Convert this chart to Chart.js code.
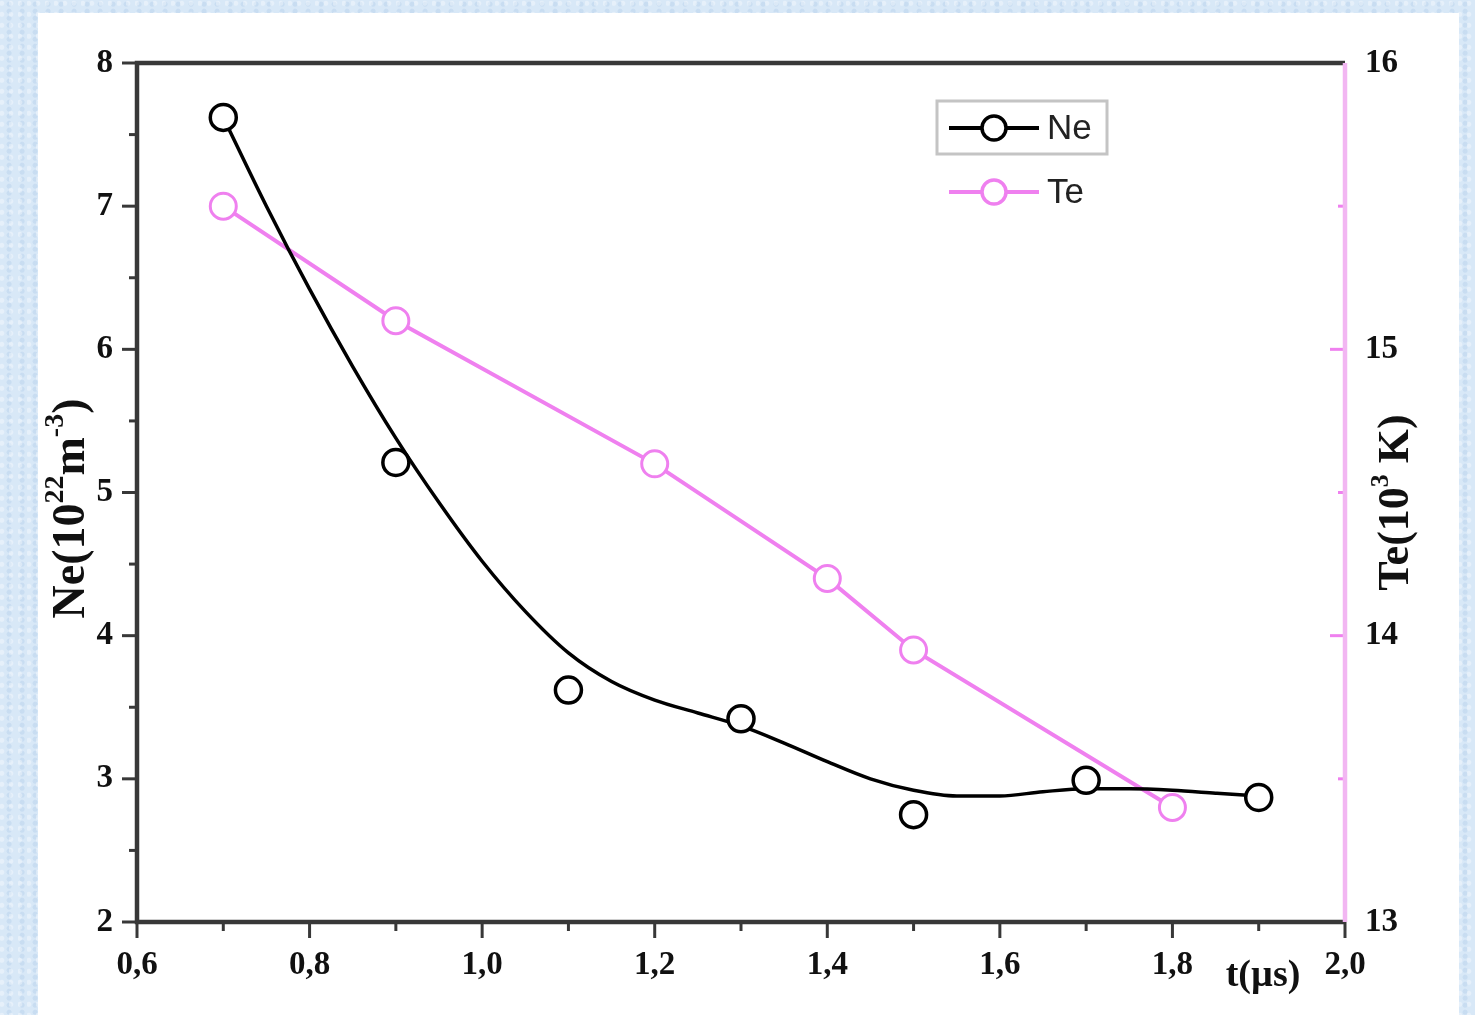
<!DOCTYPE html>
<html>
<head>
<meta charset="utf-8">
<script src="https://cdn.jsdelivr.net/npm/chart.js@4.4.1/dist/chart.umd.min.js"></script>
<style>
  html, body { margin: 0; padding: 0; }
  body {
    width: 1475px; height: 1015px; overflow: hidden; position: relative;
    background-color: #d8e8f7;
    background-image:
      radial-gradient(circle at 20% 30%, rgba(255,255,255,0.35) 0 2px, transparent 3px),
      radial-gradient(circle at 70% 60%, rgba(170,200,230,0.35) 0 2px, transparent 3px);
    background-size: 9px 11px, 13px 7px;
  }
  #panel { position: absolute; left: 38px; top: 13px; width: 1421px; height: 1002px; background: #fff; }
</style>
</head>
<body>
<div id="panel"><canvas id="combined"></canvas></div>
<script>
// measured Ne points (10^22 m^-3)
const neTimes = [0.7, 0.9, 1.1, 1.3, 1.5, 1.7, 1.9];
const neValues = [7.62, 5.21, 3.62, 3.42, 2.75, 2.99, 2.87];

// smooth fit curve through Ne
const neFitTimes = [0.7, 0.75, 0.8, 0.85, 0.9, 0.95, 1.0, 1.05, 1.1, 1.15, 1.2, 1.25, 1.3,
                    1.35, 1.4, 1.45, 1.5, 1.55, 1.6, 1.65, 1.7, 1.75, 1.8, 1.85, 1.9];
const neFitValues = [7.62, 7.0, 6.42, 5.88, 5.38, 4.93, 4.52, 4.17, 3.88, 3.68, 3.55, 3.46, 3.37,
                     3.25, 3.12, 3.0, 2.92, 2.88, 2.88, 2.91, 2.93, 2.93, 2.92, 2.9, 2.88];

// Te points (10^3 K)
const teTimes = [0.7, 0.9, 1.2, 1.4, 1.5, 1.8];
const teValues = [15.5, 15.1, 14.6, 14.2, 13.95, 13.4];

// tick labels
const xTicks = [0.6, 0.8, 1.0, 1.2, 1.4, 1.6, 1.8, 2.0];
const xTickLabels = ['0,6', '0,8', '1,0', '1,2', '1,4', '1,6', '1,8', '2,0'];
const yTicks = [2, 3, 4, 5, 6, 7, 8];
const y2Ticks = [13, 14, 15, 16];

const AXIS = '#383838';
const PINK = '#ef80ef';
const PINK_AXIS = '#f2b6f2';
const SERIF = '"Liberation Serif", "Times New Roman", serif';

function labelFor(list, labels, v) {
    const i = list.findIndex(t => Math.abs(t - v) < 1e-6);
    return i < 0 ? '' : labels[i];
}

function drawRich(ctx, parts, x, y, size) {
    // parts: [text, isSup]
    const supSize = Math.round(size * 0.6);
    let total = 0;
    const widths = parts.map(p => {
        ctx.font = 'bold ' + (p[1] ? supSize : size) + 'px ' + SERIF;
        const w = ctx.measureText(p[0]).width;
        total += w;
        return w;
    });
    let cx = x - total / 2;
    ctx.textAlign = 'left';
    ctx.textBaseline = 'middle';
    parts.forEach((p, i) => {
        ctx.font = 'bold ' + (p[1] ? supSize : size) + 'px ' + SERIF;
        ctx.fillText(p[0], cx, p[1] ? y - size * 0.35 : y);
        cx += widths[i];
    });
}

const framePlugin = {
    id: 'frame',
    beforeDatasetsDraw(chart) {
        const {ctx, chartArea: a, scales} = chart;
        ctx.save();
        ctx.lineCap = 'butt';
        // ticks
        ctx.lineWidth = 3;
        ctx.strokeStyle = AXIS;
        scales.x.ticks.forEach(t => {
            const px = scales.x.getPixelForValue(t.value);
            const len = labelFor(xTicks, xTickLabels, t.value) ? 16 : 9;
            ctx.beginPath(); ctx.moveTo(px, a.bottom); ctx.lineTo(px, a.bottom + len); ctx.stroke();
        });
        scales.y.ticks.forEach(t => {
            const py = scales.y.getPixelForValue(t.value);
            const len = Number.isInteger(t.value) ? 15 : 8;
            ctx.beginPath(); ctx.moveTo(a.left, py); ctx.lineTo(a.left - len, py); ctx.stroke();
        });
        ctx.strokeStyle = PINK;
        scales.y2.ticks.forEach(t => {
            const py = scales.y2.getPixelForValue(t.value);
            const len = Number.isInteger(t.value) ? 15 : 7;
            ctx.beginPath(); ctx.moveTo(a.right, py); ctx.lineTo(a.right - len, py); ctx.stroke();
        });
        // axis lines
        ctx.lineWidth = 4.5;
        ctx.strokeStyle = AXIS;
        ctx.beginPath();
        ctx.moveTo(a.right, a.top); ctx.lineTo(a.left, a.top);
        ctx.lineTo(a.left, a.bottom); ctx.lineTo(a.right, a.bottom);
        ctx.stroke();
        ctx.strokeStyle = PINK_AXIS;
        ctx.beginPath(); ctx.moveTo(a.right, a.top); ctx.lineTo(a.right, a.bottom); ctx.stroke();
        ctx.restore();
    },
    afterDraw(chart) {
        const {ctx, chartArea: a} = chart;
        ctx.save();
        ctx.fillStyle = '#111';
        // left title
        ctx.save();
        ctx.translate(34, (a.top + a.bottom) / 2 + 16);
        ctx.rotate(-Math.PI / 2);
        drawRich(ctx, [['Ne(10', false], ['22', true], ['m', false], ['-3', true], [')', false]], 0, 0, 46);
        ctx.restore();
        // right title
        ctx.save();
        ctx.translate(a.right + 52, (a.top + a.bottom) / 2 + 10);
        ctx.rotate(-Math.PI / 2);
        drawRich(ctx, [['Te(10', false], ['3', true], [' K)', false]], 0, 0, 44);
        ctx.restore();
        // x title
        drawRich(ctx, [['t(\u00b5s)', false]], a.right - 82, a.bottom + 54, 38);

        // legend
        const ds = chart.data.datasets;
        ctx.lineWidth = 3;
        ctx.strokeStyle = '#c4c4c4';
        ctx.strokeRect(899, 88, 170, 53);
        const rows = [[ds[0], 115, 'Ne'], [ds[2], 179, 'Te']];
        rows.forEach(([d, y, name]) => {
            ctx.strokeStyle = d.borderColor;
            ctx.lineWidth = 4;
            ctx.beginPath(); ctx.moveTo(911, y); ctx.lineTo(1001, y); ctx.stroke();
            ctx.fillStyle = '#fff';
            ctx.lineWidth = 3.5;
            ctx.beginPath(); ctx.arc(956, y, 12, 0, Math.PI * 2); ctx.fill(); ctx.stroke();
            ctx.fillStyle = '#222';
            ctx.font = '35px "Liberation Sans", Arial, sans-serif';
            ctx.textAlign = 'left';
            ctx.textBaseline = 'middle';
            ctx.fillText(name, 1009, y + 1);
        });
        ctx.restore();
    }
};

const ctx = document.getElementById('combined').getContext('2d');
new Chart(ctx, {
    type: 'line',
    data: {
        datasets: [
            {
                label: 'Ne',
                data: neTimes.map((t, i) => ({x: t, y: neValues[i]})),
                yAxisID: 'y',
                showLine: false,
                borderColor: '#000',
                pointBorderColor: '#000',
                pointBackgroundColor: '#fff',
                pointRadius: 13,
                pointBorderWidth: 3.5,
                order: 0
            },
            {
                label: 'Ne fit',
                data: neFitTimes.map((t, i) => ({x: t, y: neFitValues[i]})),
                yAxisID: 'y',
                borderColor: '#000',
                borderWidth: 3.5,
                pointRadius: 0,
                cubicInterpolationMode: 'monotone',
                fill: false,
                order: 1
            },
            {
                label: 'Te',
                data: teTimes.map((t, i) => ({x: t, y: teValues[i]})),
                yAxisID: 'y2',
                borderColor: PINK,
                borderWidth: 4,
                pointBorderColor: PINK,
                pointBackgroundColor: '#fff',
                pointRadius: 13,
                pointBorderWidth: 3,
                tension: 0,
                fill: false,
                order: 2
            }
        ]
    },
    options: {
        responsive: true,
        maintainAspectRatio: false,
        animation: false,
        layout: {padding: {top: 50, left: 0, right: 0, bottom: 0}},
        plugins: {
            legend: {display: false},
            tooltip: {enabled: false}
        },
        scales: {
            x: {
                type: 'linear',
                min: 0.6,
                max: 2.0,
                grid: {display: false, drawTicks: false},
                border: {display: false},
                afterFit(s) { s.height = 93; },
                ticks: {
                    stepSize: 0.1,
                    autoSkip: false,
                    maxRotation: 0,
                    padding: 24,
                    color: '#111',
                    font: {family: SERIF, size: 33, weight: 'bold'},
                    callback: v => labelFor(xTicks, xTickLabels, v)
                }
            },
            y: {
                position: 'left',
                min: 2,
                max: 8,
                grid: {display: false, drawTicks: false},
                border: {display: false},
                afterFit(s) { s.width = 99; },
                ticks: {
                    stepSize: 0.5,
                    autoSkip: false,
                    padding: 24,
                    color: '#111',
                    font: {family: SERIF, size: 33, weight: 'bold'},
                    callback: v => labelFor(yTicks, yTicks.map(String), v)
                }
            },
            y2: {
                position: 'right',
                min: 13,
                max: 16,
                grid: {display: false, drawTicks: false},
                border: {display: false},
                afterFit(s) { s.width = 114; },
                ticks: {
                    stepSize: 0.5,
                    autoSkip: false,
                    padding: 20,
                    color: '#111',
                    font: {family: SERIF, size: 33, weight: 'bold'},
                    callback: v => labelFor(y2Ticks, y2Ticks.map(String), v)
                }
            }
        }
    },
    plugins: [framePlugin]
});
</script>
</body>
</html>
